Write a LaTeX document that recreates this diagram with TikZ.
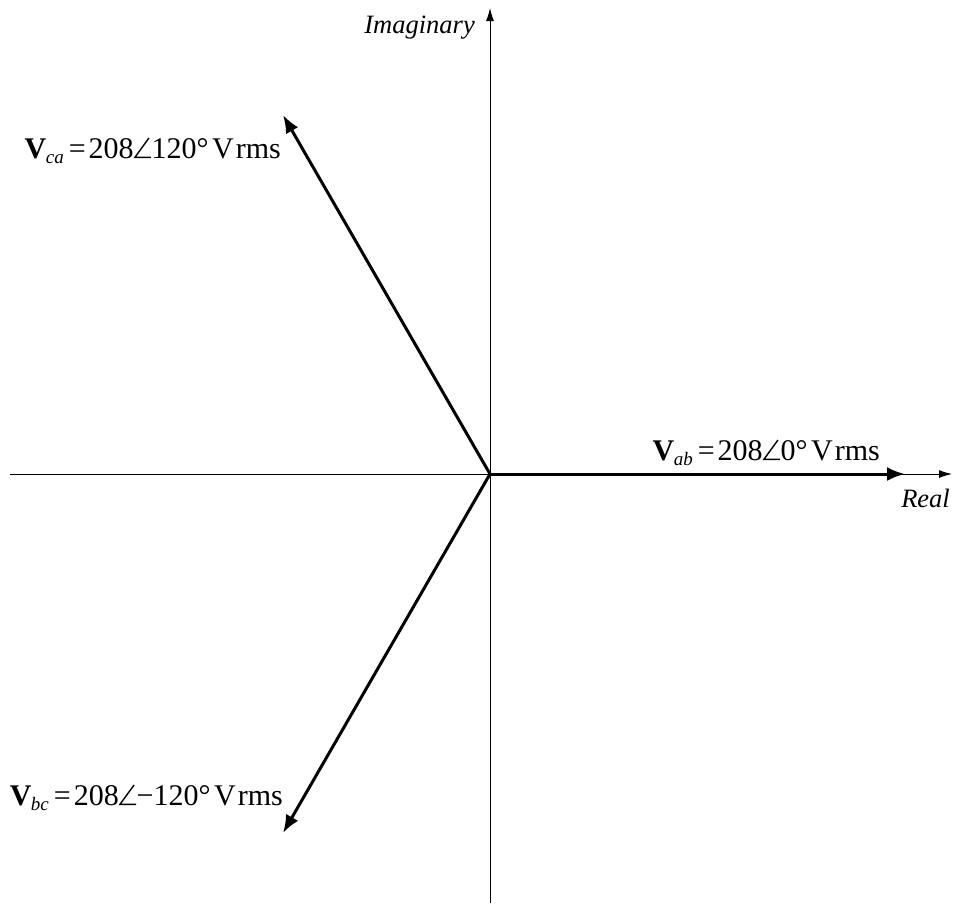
\documentclass[tikz,border=0pt]{standalone}
\usepackage{fontspec}
\setmainfont{Liberation Serif}
\usetikzlibrary{arrows.meta}
\newcommand{\ang}{\kern0.5pt\tikz[baseline=0pt,x=1pt,y=1pt]{\draw[line width=1.4pt,line join=miter] (16,0.7) -- (0,0.7) -- (14,20);}\kern0pt}
\newcommand{\phlabel}[2]{\textbf{V}\kern-0.5pt\raisebox{-5pt}{\fontsize{19}{19}\selectfont\itshape #1}\kern5pt=\kern3pt208\ang#2°\kern3.5pt V\kern2pt rms}
\begin{document}
\begin{tikzpicture}[x=1pt,y=-1pt,
  axis/.style={line width=1pt,-{Latex[length=13pt,width=8pt]}},
  phasor/.style={line width=3pt,-{Latex[length=18pt,width=14pt]}},
  lbl/.style={font=\fontsize{30}{34}\selectfont,inner sep=0pt},
  axlbl/.style={font=\fontsize{26.5}{30}\selectfont\itshape,inner sep=0pt}]
\useasboundingbox (0,0) rectangle (955,903);
\coordinate (O) at (490,474);
\coordinate (L) at (10,474);
\coordinate (R) at (952,474);
\coordinate (B) at (490,903);
\coordinate (T) at (490,8);
\coordinate (Pab) at (905,474);
\coordinate (Pca) at (283,115);
\coordinate (Pbc) at (283,833);
\draw[axis] (L) -- (R);
\draw[axis] (B) -- (T);
\draw[phasor] (O) -- (Pab);
\draw[phasor] (O) -- (Pca);
\draw[phasor] (O) -- (Pbc);
\node[axlbl,anchor=base east] (im) at (475,33) {Imaginary};
\node[axlbl,anchor=base east] (re) at (950,507) {Real};
\node[lbl,anchor=base east] (lab) at (880,460) {\phlabel{ab}{0}};
\node[lbl,anchor=base east] (lca) at (281,158) {\phlabel{ca}{120}};
\node[lbl,anchor=base east] (lbc) at (283,805) {\phlabel{bc}{−120}};
\end{tikzpicture}
\end{document}
